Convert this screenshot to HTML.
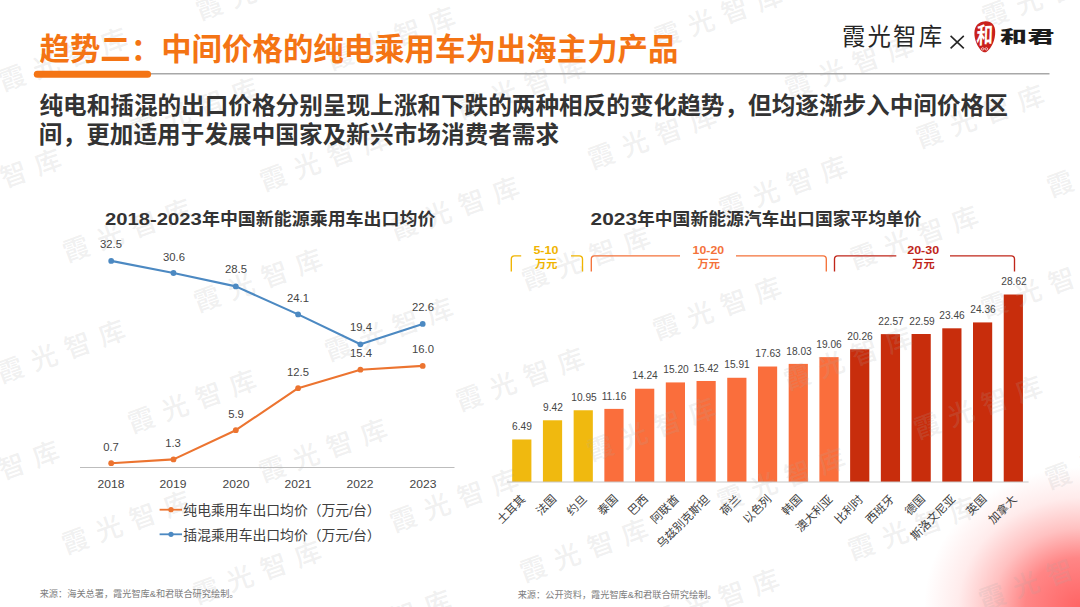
<!DOCTYPE html>
<html lang="zh-CN">
<head>
<meta charset="utf-8">
<title>趋势二：中间价格的纯电乘用车为出海主力产品</title>
<style>
html,body{margin:0;padding:0;background:#fff}
body{width:1080px;height:607px;overflow:hidden;font-family:"Liberation Sans","Noto Sans CJK SC",sans-serif}
#slide{position:relative;width:1080px;height:607px;overflow:hidden;background:#fff}
#glow{position:absolute;right:0;bottom:0;width:200px;height:180px;
 background:radial-gradient(ellipse 156px 140px at 100% 100%,rgba(255,100,100,1) 0%,rgba(255,100,100,.78) 35%,rgba(255,100,100,.4) 56%,rgba(255,100,100,.125) 78%,rgba(255,100,100,0) 100%)}
svg text{font-family:"Liberation Sans","Noto Sans CJK SC",sans-serif}
svg.layer{position:absolute;left:0;top:0;width:1080px;height:607px;overflow:hidden}
span{position:absolute;white-space:nowrap;line-height:1}
.v{font-size:11.5px;color:#454545;transform:translate(-50%,-50%) scaleX(.98)}
.yr{font-size:11.5px;color:#454545;transform:translate(-50%,-50%) scaleX(1.05)}
.bv{font-size:10.7px;color:#454545;transform:translate(-50%,-50%) scaleX(.95)}
.br{font-size:10.5px;font-weight:bold}
.ct{font-size:17.4px;font-weight:bold;fill:#333}
</style>
</head>
<body>
<div id="slide">
<div id="glow"></div>
<svg class="layer" viewBox="0 0 1080 607" width="1080" height="607">
<defs>
<g id="wm"><text x="-67.59" y="10.08" font-size="26.5" font-weight="500" letter-spacing="9.5">霞光智库</text></g>
</defs>
<g id="bars">
<rect x="512.20" y="439.48" width="19.2" height="42.52" fill="#f0b90f"/>
<rect x="542.92" y="420.29" width="19.2" height="61.71" fill="#f0b90f"/>
<rect x="573.64" y="410.27" width="19.2" height="71.73" fill="#f0b90f"/>
<rect x="604.36" y="408.89" width="19.2" height="73.11" fill="#fa6e3c"/>
<rect x="635.08" y="388.71" width="19.2" height="93.29" fill="#fa6e3c"/>
<rect x="665.80" y="382.42" width="19.2" height="99.58" fill="#fa6e3c"/>
<rect x="696.52" y="380.98" width="19.2" height="101.02" fill="#fa6e3c"/>
<rect x="727.24" y="377.77" width="19.2" height="104.23" fill="#fa6e3c"/>
<rect x="757.96" y="366.51" width="19.2" height="115.49" fill="#fa6e3c"/>
<rect x="788.68" y="363.89" width="19.2" height="118.11" fill="#fa6e3c"/>
<rect x="819.40" y="357.14" width="19.2" height="124.86" fill="#fa6e3c"/>
<rect x="850.12" y="349.28" width="19.2" height="132.72" fill="#c82d0c"/>
<rect x="880.84" y="334.14" width="19.2" height="147.86" fill="#c82d0c"/>
<rect x="911.56" y="334.01" width="19.2" height="147.99" fill="#c82d0c"/>
<rect x="942.28" y="328.31" width="19.2" height="153.69" fill="#c82d0c"/>
<rect x="973.00" y="322.42" width="19.2" height="159.58" fill="#c82d0c"/>
<rect x="1003.72" y="294.51" width="19.2" height="187.49" fill="#c82d0c"/>
</g>
<g id="watermark" fill="#a8a8a8" fill-opacity=".175" aria-hidden="true">
<use href="#wm" transform="translate(-71 593) rotate(-20)"/>
<use href="#wm" transform="translate(60 643) rotate(-20)"/>
<use href="#wm" transform="translate(-5 472) rotate(-20)"/>
<use href="#wm" transform="translate(126 522) rotate(-20)"/>
<use href="#wm" transform="translate(257 572) rotate(-20)"/>
<use href="#wm" transform="translate(387 621) rotate(-20)"/>
<use href="#wm" transform="translate(-70 301) rotate(-20)"/>
<use href="#wm" transform="translate(61 351) rotate(-20)"/>
<use href="#wm" transform="translate(192 401) rotate(-20)"/>
<use href="#wm" transform="translate(323 450) rotate(-20)"/>
<use href="#wm" transform="translate(454 500) rotate(-20)"/>
<use href="#wm" transform="translate(584 550) rotate(-20)"/>
<use href="#wm" transform="translate(715 600) rotate(-20)"/>
<use href="#wm" transform="translate(846 649) rotate(-20)"/>
<use href="#wm" transform="translate(-3 180) rotate(-20)"/>
<use href="#wm" transform="translate(127 230) rotate(-20)"/>
<use href="#wm" transform="translate(258 280) rotate(-20)"/>
<use href="#wm" transform="translate(389 329) rotate(-20)"/>
<use href="#wm" transform="translate(520 379) rotate(-20)"/>
<use href="#wm" transform="translate(651 429) rotate(-20)"/>
<use href="#wm" transform="translate(781 479) rotate(-20)"/>
<use href="#wm" transform="translate(912 528) rotate(-20)"/>
<use href="#wm" transform="translate(1043 578) rotate(-20)"/>
<use href="#wm" transform="translate(-68 10) rotate(-20)"/>
<use href="#wm" transform="translate(63 59) rotate(-20)"/>
<use href="#wm" transform="translate(194 109) rotate(-20)"/>
<use href="#wm" transform="translate(324 159) rotate(-20)"/>
<use href="#wm" transform="translate(455 208) rotate(-20)"/>
<use href="#wm" transform="translate(586 258) rotate(-20)"/>
<use href="#wm" transform="translate(717 308) rotate(-20)"/>
<use href="#wm" transform="translate(848 358) rotate(-20)"/>
<use href="#wm" transform="translate(978 407) rotate(-20)"/>
<use href="#wm" transform="translate(1109 457) rotate(-20)"/>
<use href="#wm" transform="translate(260 -12) rotate(-20)"/>
<use href="#wm" transform="translate(391 38) rotate(-20)"/>
<use href="#wm" transform="translate(521 87) rotate(-20)"/>
<use href="#wm" transform="translate(652 137) rotate(-20)"/>
<use href="#wm" transform="translate(783 187) rotate(-20)"/>
<use href="#wm" transform="translate(914 237) rotate(-20)"/>
<use href="#wm" transform="translate(1045 286) rotate(-20)"/>
<use href="#wm" transform="translate(588 -34) rotate(-20)"/>
<use href="#wm" transform="translate(718 16) rotate(-20)"/>
<use href="#wm" transform="translate(849 66) rotate(-20)"/>
<use href="#wm" transform="translate(980 116) rotate(-20)"/>
<use href="#wm" transform="translate(1111 165) rotate(-20)"/>
<use href="#wm" transform="translate(1046 -5) rotate(-20)"/>
</g>
<text x="39.45" y="60.47" font-size="30.4" font-weight="bold" fill="#f47414" textLength="639" lengthAdjust="spacing">趋势二：中间价格的纯电乘用车为出海主力产品</text>
<line x1="151" y1="73.8" x2="1049.5" y2="73.8" stroke="#a8a8a8" stroke-width="1.4"/>
<line x1="37.3" y1="74.15" x2="147.6" y2="74.15" stroke="#f47414" stroke-width="7" stroke-linecap="round"/>
<text x="39.41" y="114.43" font-size="23.6" font-weight="bold" fill="#333333" textLength="968.4" lengthAdjust="spacing">纯电和插混的出口价格分别呈现上涨和下跌的两种相反的变化趋势，但均逐渐步入中间价格区</text>
<text x="38.82" y="142.78" font-size="23.6" font-weight="bold" fill="#333333" textLength="520.3" lengthAdjust="spacing">间，更加适用于发展中国家及新兴市场消费者需求</text>
<text x="841.95" y="45.13" font-size="23.4" letter-spacing="2.2" fill="#262626">霞光智库</text>
<path d="M950.6 35.9L963.8 48.3M963.8 35.9L950.6 48.3" stroke="#262626" stroke-width="1.6" fill="none"/>
<path d="M984.2 21.4C990.4 20.4 995.3 24.6 995.2 31.6C995.4 39.5 992 48.2 986.4 51.9C983.4 53.4 979.3 49.6 976.6 43.4C973.6 36.4 973.4 28.2 977.6 24.2C979.6 22.4 981.8 21.7 984.2 21.4Z" fill="#c9211c"/>
<g transform="translate(984.4 35.3) rotate(-4) skewX(-6) scale(1 1.38)"><text x="-7.93" y="5.95" font-size="16.5" font-weight="bold" fill="#fff">和</text></g>
<path d="M981.2 48.9c.3-1.6 2.8-1.6 2.9 0c0 1.5-2.4 1.6-2.9 0m3.6 0c.3-1.6 2.8-1.6 2.9 0c0 1.5-2.4 1.6-2.9 0" stroke="#fff" stroke-width=".7" fill="none"/>
<text transform="translate(999.96 43.14) scale(1.6265 1)" font-size="16.6" font-weight="900" letter-spacing="0.4" fill="#1c1c1c">和君</text>
<text class="ct" x="201.94" y="225.15" textLength="233.5" lengthAdjust="spacingAndGlyphs">年中国新能源乘用车出口均价</text>
<text class="ct" x="105.0" y="225.1" textLength="96.9" lengthAdjust="spacingAndGlyphs">2018-2023</text>
<line x1="80.0" y1="467.5" x2="454.5" y2="467.5" stroke="#bdbdbd" stroke-width="1.1"/>
<polyline points="111.2,260.9 173.5,273.0 235.8,286.4 298.1,314.4 360.4,344.3 422.7,323.9" fill="none" stroke="#4c89c2" stroke-width="2.1" stroke-linejoin="round"/>
<circle cx="111.2" cy="260.9" r="2.9" fill="#4c89c2"/>
<circle cx="173.5" cy="273.0" r="2.9" fill="#4c89c2"/>
<circle cx="235.8" cy="286.4" r="2.9" fill="#4c89c2"/>
<circle cx="298.1" cy="314.4" r="2.9" fill="#4c89c2"/>
<circle cx="360.4" cy="344.3" r="2.9" fill="#4c89c2"/>
<circle cx="422.7" cy="323.9" r="2.9" fill="#4c89c2"/>
<polyline points="111.2,463.2 173.5,459.4 235.8,430.2 298.1,388.2 360.4,369.7 422.7,365.9" fill="none" stroke="#ec7430" stroke-width="2.1" stroke-linejoin="round"/>
<circle cx="111.2" cy="463.2" r="2.9" fill="#ec7430"/>
<circle cx="173.5" cy="459.4" r="2.9" fill="#ec7430"/>
<circle cx="235.8" cy="430.2" r="2.9" fill="#ec7430"/>
<circle cx="298.1" cy="388.2" r="2.9" fill="#ec7430"/>
<circle cx="360.4" cy="369.7" r="2.9" fill="#ec7430"/>
<circle cx="422.7" cy="365.9" r="2.9" fill="#ec7430"/>
<line x1="159.6" y1="509.7" x2="182" y2="509.7" stroke="#ec7430" stroke-width="1.8"/>
<circle cx="171" cy="509.7" r="2.6" fill="#ec7430"/>
<text x="183.35" y="515.17" font-size="13.5" fill="#404040" textLength="197.3" lengthAdjust="spacingAndGlyphs">纯电乘用车出口均价（万元/台）</text>
<line x1="159.6" y1="534.3" x2="182" y2="534.3" stroke="#4c89c2" stroke-width="1.8"/>
<circle cx="171" cy="534.3" r="2.6" fill="#4c89c2"/>
<text x="183.39" y="539.77" font-size="13.5" fill="#404040" textLength="197.3" lengthAdjust="spacingAndGlyphs">插混乘用车出口均价（万元/台）</text>
<text x="39.69" y="596.97" font-size="9.1" fill="#7d7d7d" textLength="198.8" lengthAdjust="spacingAndGlyphs">来源：海关总署，霞光智库&amp;和君联合研究绘制。</text>
<text class="ct" x="637.04" y="225.16" textLength="284.6" lengthAdjust="spacingAndGlyphs">年中国新能源汽车出口国家平均单价</text>
<text class="ct" x="590.6" y="225.1" textLength="46.4" lengthAdjust="spacingAndGlyphs">2023</text>
<g transform="translate(522.7 497.3) rotate(-45)"><text x="-33.91" y="4.37" font-size="11.5" fill="#404040">土耳其</text></g>
<g transform="translate(553.4 497.3) rotate(-45)"><text x="-22.01" y="4.37" font-size="11.5" fill="#404040">法国</text></g>
<g transform="translate(584.1 497.3) rotate(-45)"><text x="-22.26" y="4.40" font-size="11.5" fill="#404040">约旦</text></g>
<g transform="translate(614.9 497.3) rotate(-45)"><text x="-22.01" y="4.36" font-size="11.5" fill="#404040">泰国</text></g>
<g transform="translate(645.6 497.3) rotate(-45)"><text x="-22.30" y="4.06" font-size="11.5" fill="#404040">巴西</text></g>
<g transform="translate(676.3 497.3) rotate(-45)"><text x="-33.89" y="4.37" font-size="11.5" fill="#404040">阿联酋</text></g>
<g transform="translate(707.0 497.3) rotate(-45)"><text x="-68.55" y="4.31" font-size="11.5" fill="#404040">乌兹别克斯坦</text></g>
<g transform="translate(737.7 497.3) rotate(-45)"><text x="-22.32" y="4.38" font-size="11.5" fill="#404040">荷兰</text></g>
<g transform="translate(768.5 497.3) rotate(-45)"><text x="-33.63" y="4.35" font-size="11.5" fill="#404040">以色列</text></g>
<g transform="translate(799.2 497.3) rotate(-45)"><text x="-22.01" y="4.36" font-size="11.5" fill="#404040">韩国</text></g>
<g transform="translate(829.9 497.3) rotate(-45)"><text x="-45.48" y="4.37" font-size="11.5" fill="#404040">澳大利亚</text></g>
<g transform="translate(860.6 497.3) rotate(-45)"><text x="-34.06" y="4.34" font-size="11.5" fill="#404040">比利时</text></g>
<g transform="translate(891.3 497.3) rotate(-45)"><text x="-33.80" y="4.36" font-size="11.5" fill="#404040">西班牙</text></g>
<g transform="translate(922.1 497.3) rotate(-45)"><text x="-22.01" y="4.39" font-size="11.5" fill="#404040">德国</text></g>
<g transform="translate(952.8 497.3) rotate(-45)"><text x="-56.98" y="4.32" font-size="11.5" fill="#404040">斯洛文尼亚</text></g>
<g transform="translate(983.5 497.3) rotate(-45)"><text x="-22.01" y="4.36" font-size="11.5" fill="#404040">英国</text></g>
<g transform="translate(1014.2 497.3) rotate(-45)"><text x="-34.02" y="4.48" font-size="11.5" fill="#404040">加拿大</text></g>
<line x1="507" y1="482" x2="1028.6" y2="482" stroke="#c8c8c8" stroke-width="1.1"/>
<path d="M511.3 271.6V259.0Q511.3 255.8 514.5 255.8H521.2M571.0 255.8H579.3Q582.5 255.8 582.5 259.0V271.6" fill="none" stroke="#f0b400" stroke-width="1.35"/>
<path d="M591.3 271.6V259.0Q591.3 255.8 594.5 255.8H680.0M736.0 255.8H823.1Q826.3 255.8 826.3 259.0V271.6" fill="none" stroke="#f4723a" stroke-width="1.35"/>
<path d="M834.5 271.6V259.0Q834.5 255.8 837.7 255.8H896.3M950.0 255.8H1011.3Q1014.5 255.8 1014.5 259.0V271.6" fill="none" stroke="#c0261a" stroke-width="1.35"/>
<text class="br" x="533.4" y="254.1" textLength="25.0" lengthAdjust="spacingAndGlyphs" fill="#f0b400">5-10</text>
<text x="534.97" y="267.83" font-size="11.2" font-weight="bold" fill="#f0b400">万元</text>
<text class="br" x="692.6" y="254.1" textLength="31.5" lengthAdjust="spacingAndGlyphs" fill="#f4723a">10-20</text>
<text x="697.47" y="267.83" font-size="11.2" font-weight="bold" fill="#f4723a">万元</text>
<text class="br" x="907.2" y="254.1" textLength="32.0" lengthAdjust="spacingAndGlyphs" fill="#c0261a">20-30</text>
<text x="912.27" y="267.83" font-size="11.2" font-weight="bold" fill="#c0261a">万元</text>
<text x="517.69" y="597.77" font-size="9.1" fill="#7d7d7d" textLength="198.8" lengthAdjust="spacingAndGlyphs">来源：公开资料，霞光智库&amp;和君联合研究绘制。</text>
</svg>
<span class="v" style="left:111.0px;top:245.2px">32.5</span>
<span class="v" style="left:173.5px;top:257.6px">30.6</span>
<span class="v" style="left:236.0px;top:270.4px">28.5</span>
<span class="v" style="left:297.6px;top:298.9px">24.1</span>
<span class="v" style="left:360.5px;top:327.7px">19.4</span>
<span class="v" style="left:422.6px;top:308.2px">22.6</span>
<span class="v" style="left:110.8px;top:447.9px">0.7</span>
<span class="v" style="left:173.4px;top:444.0px">1.3</span>
<span class="v" style="left:235.6px;top:414.7px">5.9</span>
<span class="v" style="left:297.6px;top:372.8px">12.5</span>
<span class="v" style="left:360.5px;top:353.9px">15.4</span>
<span class="v" style="left:423.0px;top:349.9px">16.0</span>
<span class="yr" style="left:111.0px;top:484.6px">2018</span>
<span class="yr" style="left:173.3px;top:484.6px">2019</span>
<span class="yr" style="left:235.6px;top:484.6px">2020</span>
<span class="yr" style="left:297.9px;top:484.6px">2021</span>
<span class="yr" style="left:360.2px;top:484.6px">2022</span>
<span class="yr" style="left:422.5px;top:484.6px">2023</span>
<span class="bv" style="left:522.1px;top:426.1px">6.49</span>
<span class="bv" style="left:552.8px;top:406.9px">9.42</span>
<span class="bv" style="left:583.5px;top:396.9px">10.95</span>
<span class="bv" style="left:614.3px;top:395.5px">11.16</span>
<span class="bv" style="left:645.0px;top:375.3px">14.24</span>
<span class="bv" style="left:675.7px;top:369.0px">15.20</span>
<span class="bv" style="left:706.4px;top:367.6px">15.42</span>
<span class="bv" style="left:737.1px;top:364.4px">15.91</span>
<span class="bv" style="left:767.9px;top:353.1px">17.63</span>
<span class="bv" style="left:798.6px;top:350.5px">18.03</span>
<span class="bv" style="left:829.3px;top:343.7px">19.06</span>
<span class="bv" style="left:860.0px;top:335.9px">20.26</span>
<span class="bv" style="left:890.7px;top:320.7px">22.57</span>
<span class="bv" style="left:921.5px;top:320.6px">22.59</span>
<span class="bv" style="left:952.2px;top:314.9px">23.46</span>
<span class="bv" style="left:982.9px;top:309.0px">24.36</span>
<span class="bv" style="left:1013.6px;top:281.1px">28.62</span>
</div>
</body>
</html>
